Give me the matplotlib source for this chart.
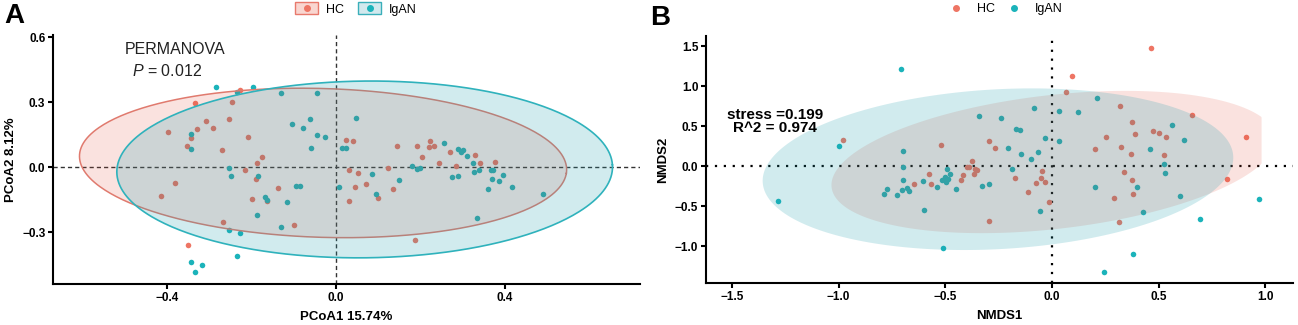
import numpy as np
import matplotlib
matplotlib.use("Agg")
import matplotlib.pyplot as plt
from matplotlib.patches import Patch
from matplotlib.lines import Line2D

plt.rcParams['font.family'] = ['Liberation Sans', 'DejaVu Sans']
plt.rcParams['mathtext.fontset'] = 'custom'
plt.rcParams['mathtext.it'] = 'Liberation Sans:italic'
plt.rcParams['mathtext.rm'] = 'Liberation Sans'

# ---- Panel A: PCoA ----
hc_a_x = [-0.226, -0.334, -0.245, -0.398, -0.308, -0.330, -0.290, -0.253, -0.208, -0.353, -0.342, -0.269,
          -0.176, -0.188, -0.215, -0.190, -0.381, -0.415, -0.198, -0.164, -0.138, -0.267, -0.099, -0.350,
          0.024, 0.040, 0.032, 0.053, 0.046, 0.032, 0.070, 0.099, 0.124, 0.135, 0.144, 0.192, 0.203, 0.222,
          0.221, 0.233, 0.244, 0.271, 0.285, 0.330, 0.342, 0.376, 0.188]
hc_a_y = [0.354, 0.298, 0.300, 0.162, 0.214, 0.177, 0.180, 0.221, 0.137, 0.098, 0.135, 0.080,
          0.046, 0.018, -0.012, -0.057, -0.075, -0.135, -0.149, -0.158, -0.095, -0.254, -0.266, -0.361,
          0.125, 0.120, -0.014, -0.029, -0.091, -0.157, -0.077, -0.145, -0.006, -0.102, 0.098, 0.095, 0.045, 0.119,
          0.092, 0.097, 0.020, 0.071, 0.006, 0.057, 0.020, 0.025, -0.335]
igan_a_x = [-0.285, -0.196, -0.235, -0.129, -0.046, -0.342, -0.342, -0.103, -0.062, -0.077, -0.044, -0.026,
            -0.058, -0.254, -0.249, -0.184, -0.167, -0.164, -0.117, -0.095, -0.084, -0.186, -0.129, -0.254,
            -0.227, -0.234, -0.343, -0.318, -0.333,
            0.047, 0.014, 0.023, 0.007, 0.257, 0.290, 0.302, 0.295, 0.310, 0.324, 0.180, 0.192, 0.199, 0.085,
            0.149, 0.095, 0.275, 0.290, 0.327, 0.338, 0.366, 0.372, 0.395, 0.369, 0.387, 0.361, 0.416, 0.491, 0.335]
igan_a_y = [0.368, 0.372, 0.346, 0.341, 0.341, 0.154, 0.085, 0.198, 0.223, 0.180, 0.146, 0.140,
            0.089, -0.003, -0.040, -0.043, -0.140, -0.150, -0.162, -0.088, -0.086, -0.223, -0.275, -0.291,
            -0.306, -0.412, -0.438, -0.454, -0.485,
            0.225, 0.088, 0.089, -0.091, 0.112, 0.082, 0.078, 0.071, 0.052, 0.020, 0.003, -0.009, -0.003, -0.034,
            -0.058, -0.125, -0.048, -0.042, -0.022, -0.014, -0.012, -0.012, -0.035, -0.054, -0.063, -0.100, -0.091,
            -0.126, -0.235]
# ellipses: center x, center y, semi-major, semi-minor, angle (deg)
hc_a_ell = [-0.0305, 0.019, 0.578, 0.343, -4.75]
igan_a_ell = [0.068, -0.011, 0.587, 0.408, 2.1]

# ---- Panel B: NMDS ----
hc_b_x = [-0.978, -0.520, -0.578, -0.647, -0.567, -0.428, -0.419, -0.388, -0.374, -0.400, -0.361, -0.350,
          -0.364, 0.466, 0.092, 0.064, 0.319, 0.655, 0.375, 0.389, 0.475, 0.500, 0.536, 0.253, 0.911, 0.200,
          0.322, 0.369, 0.527, 0.339, 0.375, 0.378, 0.292, 0.822, 0.316, -0.297, -0.269, -0.048, -0.053,
          -0.034, -0.075, -0.173, -0.113, -0.014, -0.297]
hc_b_y = [0.321, 0.267, -0.100, -0.221, -0.225, -0.175, -0.117, -0.008, 0.066, -0.017, -0.038, -0.050,
          -0.100, 1.479, 1.129, 0.929, 0.746, 0.642, 0.554, 0.404, 0.438, 0.408, 0.362, 0.367, 0.358, 0.212,
          0.233, 0.146, 0.133, -0.075, -0.179, -0.350, -0.396, -0.158, -0.700, 0.312, 0.225, -0.058, -0.146,
          -0.196, -0.208, -0.150, -0.325, -0.446, -0.692]
igan_b_x = [-0.709, -1.000, -1.283, -0.697, -0.697, -0.697, -0.705, -0.681, -0.669, -0.775, -0.788, -0.728,
            -0.606, -0.599, -0.538, -0.517, -0.497, -0.486, -0.502, -0.478, -0.491, -0.451, -0.510,
            0.212, -0.083, 0.034, 0.122, -0.341, -0.239, -0.169, -0.149, 0.561, 0.619, -0.031, 0.034, -0.205,
            -0.066, -0.145, -0.100, 0.458, 0.524, 0.530, -0.189, -0.327, -0.295, 0.203, 0.397, 0.600, 0.972,
            0.425, -0.056, 0.695, 0.381, 0.245]
igan_b_y = [1.209, 0.254, -0.438, 0.188, -0.008, -0.179, -0.300, -0.279, -0.308, -0.283, -0.350, -0.367,
            -0.188, -0.550, -0.267, -0.175, -0.196, -0.158, -0.142, -0.100, -0.042, -0.283, -1.021,
            0.854, 0.729, 0.683, 0.675, 0.621, 0.604, 0.463, 0.450, 0.508, 0.329, 0.350, 0.308, 0.225,
            0.179, 0.154, 0.092, 0.208, 0.029, -0.092, -0.042, -0.246, -0.221, -0.267, -0.267, -0.375, -0.408,
            -0.579, -0.558, -0.663, -1.096, -1.325]
hc_b_ell = [0.007, 0.05, 1.127, 0.777, 32.0]
hc_b_clip = 0.983
igan_b_ell = [-0.253, -0.04, 1.143, 0.965, 29.2]

RED = '#EE7564'
TEAL = '#1BB3BA'
RED_FILL = (0.88, 0.26, 0.18, 0.15)
TEAL_FILL = (0.10, 0.62, 0.68, 0.20)


def ellipse_xy(cx, cy, a, b, ang):
    t = np.linspace(0, 2 * np.pi, 400)
    th = np.deg2rad(ang)
    x = cx + a * np.cos(t) * np.cos(th) - b * np.sin(t) * np.sin(th)
    y = cy + a * np.cos(t) * np.sin(th) + b * np.sin(t) * np.cos(th)
    return x, y


def style_axes(ax):
    for s in ['top', 'right']:
        ax.spines[s].set_visible(False)
    for s in ['left', 'bottom']:
        ax.spines[s].set_linewidth(1.5)
    ax.tick_params(width=1.5, length=3.5, labelsize=8.5, pad=2)
    for lab in ax.get_xticklabels() + ax.get_yticklabels():
        lab.set_fontweight('bold')


fig = plt.figure(figsize=(12.98, 3.25), dpi=100)

# Panel A
ax1 = fig.add_axes([0.0408, 0.1262, 0.4523, 0.7662])
ax1.axhline(0, color='#333333', lw=1, ls=(0, (3, 2.2)), zorder=1)
ax1.axvline(0, color='#333333', lw=1, ls=(0, (3, 2.2)), zorder=1)
ax1.scatter(hc_a_x, hc_a_y, s=16, color=RED, lw=0, zorder=2)
ax1.scatter(igan_a_x, igan_a_y, s=16, color=TEAL, lw=0, zorder=2)
ex, ey = ellipse_xy(*hc_a_ell)
ax1.fill(ex, ey, facecolor=RED_FILL, edgecolor='none', zorder=3)
ax1.plot(ex, ey, color='#E07A6E', lw=1.1, zorder=3)
ex, ey = ellipse_xy(*igan_a_ell)
ax1.fill(ex, ey, facecolor=TEAL_FILL, edgecolor='none', zorder=4)
ax1.plot(ex, ey, color='#2FB2BC', lw=1.2, zorder=4)
ax1.set_xlim(-0.67, 0.72)
ax1.set_ylim(-0.54, 0.61)
ax1.set_xticks([-0.4, 0.0, 0.4])
ax1.set_yticks([-0.3, 0.0, 0.3, 0.6])
ax1.set_xticklabels(['\u22120.4', '0.0', '0.4'])
ax1.set_yticklabels(['\u22120.3', '0.0', '0.3', '0.6'])
ax1.set_xlabel('PCoA1 15.74%', fontsize=9.5, fontweight='bold', labelpad=5)
ax1.set_ylabel('PCoA2 8.12%', fontsize=9.5, fontweight='bold', labelpad=4)
style_axes(ax1)
ax1.text(-0.382, 0.545, 'PERMANOVA', fontsize=11.5, ha='center', va='center', color='#222222', zorder=6)
ax1.text(-0.40, 0.443, '$P$ = 0.012', fontsize=11.5, ha='center', va='center', color='#222222', zorder=6)

# Panel B
ax2 = fig.add_axes([0.5439, 0.1292, 0.4522, 0.7600])
ax2.axhline(0, color='black', lw=1.6, ls=(0, (1, 3)), zorder=1)
ax2.axvline(0, color='black', lw=1.6, ls=(0, (1, 3)), zorder=1)
ax2.scatter(hc_b_x, hc_b_y, s=16, color=RED, lw=0, zorder=2)
ax2.scatter(igan_b_x, igan_b_y, s=16, color=TEAL, lw=0, zorder=2)
ex, ey = ellipse_xy(*hc_b_ell)
ax2.fill(np.minimum(ex, hc_b_clip), ey, facecolor=RED_FILL, edgecolor='none', zorder=3)
ex, ey = ellipse_xy(*igan_b_ell)
ax2.fill(ex, ey, facecolor=TEAL_FILL, edgecolor='none', zorder=4)
ax2.set_xlim(-1.622, 1.13)
ax2.set_ylim(-1.4625, 1.625)
ax2.set_xticks([-1.5, -1.0, -0.5, 0.0, 0.5, 1.0])
ax2.set_yticks([-1.0, -0.5, 0.0, 0.5, 1.0, 1.5])
ax2.set_xticklabels(['\u22121.5', '\u22121.0', '\u22120.5', '0.0', '0.5', '1.0'])
ax2.set_yticklabels(['\u22121.0', '\u22120.5', '0.0', '0.5', '1.0', '1.5'])
ax2.set_xlabel('NMDS1', fontsize=9.5, fontweight='bold', labelpad=5)
ax2.set_ylabel('NMDS2', fontsize=9.5, fontweight='bold', labelpad=4)
style_axes(ax2)
ax2.text(-1.30, 0.64, 'stress =0.199', fontsize=11, fontweight='bold', ha='center', va='center', zorder=6)
ax2.text(-1.30, 0.475, 'R^2 = 0.974', fontsize=11, fontweight='bold', ha='center', va='center', zorder=6)

# panel letters
fig.text(0.003, 0.99, 'A', fontsize=20, fontweight='bold', ha='left', va='top')
fig.text(0.501, 0.985, 'B', fontsize=20, fontweight='bold', ha='left', va='top')

# legends
h_a = [(Patch(facecolor='#F9D6D0', edgecolor='#E8796C', lw=1),
        Line2D([], [], marker='o', ls='', color=RED, markersize=4)),
       (Patch(facecolor='#D2E9EE', edgecolor='#3AAFBA', lw=1),
        Line2D([], [], marker='o', ls='', color=TEAL, markersize=4))]
fig.legend(h_a, ['HC', 'IgAN'], loc='center', bbox_to_anchor=(0.274, 0.972), ncol=2, frameon=False,
           fontsize=9, handlelength=1.9, handleheight=1.1, handletextpad=0.6, columnspacing=1.1,
           borderpad=0, borderaxespad=0)
h_b = [Line2D([], [], marker='o', ls='', color=RED, markersize=4),
       Line2D([], [], marker='o', ls='', color=TEAL, markersize=4)]
fig.legend(h_b, ['HC', 'IgAN'], loc='center', bbox_to_anchor=(0.775, 0.972), ncol=2, frameon=False,
           fontsize=9, handlelength=1.0, handletextpad=1.2, columnspacing=1.0,
           borderpad=0, borderaxespad=0)

fig.savefig('out.png', dpi=100)
